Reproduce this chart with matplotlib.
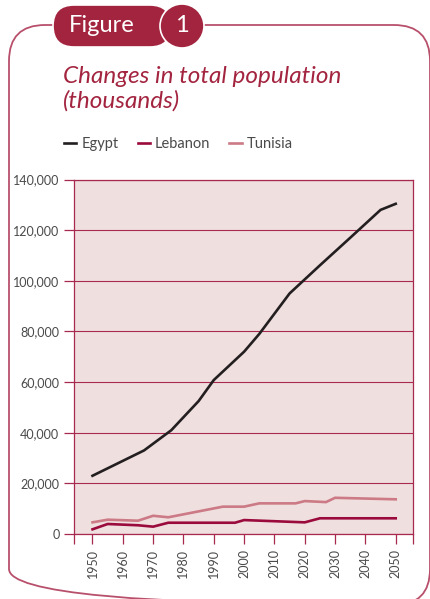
import matplotlib.pyplot as plt
from matplotlib.patches import FancyBboxPatch, Circle
from matplotlib.ticker import FuncFormatter, FixedLocator

# population in thousands
egypt_years = [1950, 1967, 1976, 1985, 1990, 2000, 2005, 2015, 2025, 2035, 2045, 2050]
egypt = [23000, 33000, 41000, 52500, 60800, 72000, 79000, 95000, 106100, 117000, 128000, 130400]

lebanon_years = [1950, 1955, 1965, 1970, 1975, 1997, 2000, 2020, 2025, 2050]
lebanon = [1850, 3950, 3450, 2900, 4450, 4450, 5500, 4600, 6200, 6200]

tunisia_years = [1950, 1955, 1965, 1970, 1975, 1993, 2000, 2005, 2017, 2020, 2027, 2030, 2050]
tunisia = [4600, 5650, 5250, 7200, 6600, 10800, 10800, 12100, 12100, 13000, 12600, 14300, 13700]

year_ticks = list(range(1950, 2051, 10))
value_ticks = list(range(0, 140001, 20000))

CRIMSON = '#a3243f'
FRAME = '#b8506c'
GRID = '#a8294f'
TEXT = '#4a4a4a'

plt.rcParams['font.family'] = ['Lato', 'DejaVu Sans']

W, H = 431, 599
fig = plt.figure(figsize=(W / 100, H / 100), dpi=100)

# page furniture drawn in pixel units
bg = fig.add_axes([0, 0, 1, 1])
bg.set_xlim(0, W)
bg.set_ylim(H, 0)
bg.axis('off')

frame = FancyBboxPatch((9, 25), 421, 580, boxstyle='round,pad=0,rounding_size=36',
                       fc='none', ec=FRAME, lw=1.3)
bg.add_patch(frame)
pill = FancyBboxPatch((53, 5), 118, 42, boxstyle='round,pad=0,rounding_size=21',
                      fc=CRIMSON, ec='white', lw=1.2)
bg.add_patch(pill)
bg.add_patch(Circle((182, 26), 22, fc=CRIMSON, ec='white', lw=1.2))
bg.text(102, 26, 'Figure', color='white', fontsize=17, ha='center', va='center')
bg.text(182, 26, '1', color='white', fontsize=17, ha='center', va='center')

bg.text(63, 83, 'Changes in total population', color=CRIMSON,
        fontsize=17.5, style='italic', ha='left', va='baseline')
bg.text(63, 108, '(thousands)', color=CRIMSON,
        fontsize=17.5, style='italic', ha='left', va='baseline')

ax = fig.add_axes([74 / W, 1 - 534 / H, (413 - 74) / W, (534 - 179.5) / H])
ax.set_facecolor('#f0dfdf')

ax.plot(egypt_years, egypt, color='#231f20', lw=1.9, label='Egypt', solid_joinstyle='miter')
ax.plot(lebanon_years, lebanon, color='#9b0a3c', lw=1.9, label='Lebanon', solid_joinstyle='miter')
ax.plot(tunisia_years, tunisia, color='#cc7a85', lw=1.9, label='Tunisia', solid_joinstyle='miter')

ax.set_xlim(1943.9, 2055.7)
ax.set_ylim(0, 140000)
ax.xaxis.set_major_locator(FixedLocator(year_ticks))
ax.xaxis.set_minor_locator(FixedLocator([1943.9, 2055.7]))
ax.yaxis.set_major_locator(FixedLocator(value_ticks))
ax.yaxis.set_major_formatter(FuncFormatter(lambda v, p: f'{int(v):,}'))

ax.grid(axis='y', color=GRID, lw=0.8)
ax.set_axisbelow(True)
for s in ax.spines.values():
    s.set_color(GRID)
    s.set_linewidth(0.9)

ax.tick_params(axis='both', which='both', color=GRID, width=0.9, length=7.5,
               labelcolor=TEXT, labelsize=9)
ax.tick_params(axis='x', labelrotation=90, pad=3)
ax.tick_params(axis='y', pad=3)

fig.legend(loc='center left', bbox_to_anchor=(64 / W, 1 - 144 / H), ncol=3, frameon=False,
           handlelength=0.85, handletextpad=0.35, columnspacing=1.3, fontsize=10.5,
           labelcolor=TEXT, borderaxespad=0, borderpad=0)

fig.savefig('out.png', dpi=100)
